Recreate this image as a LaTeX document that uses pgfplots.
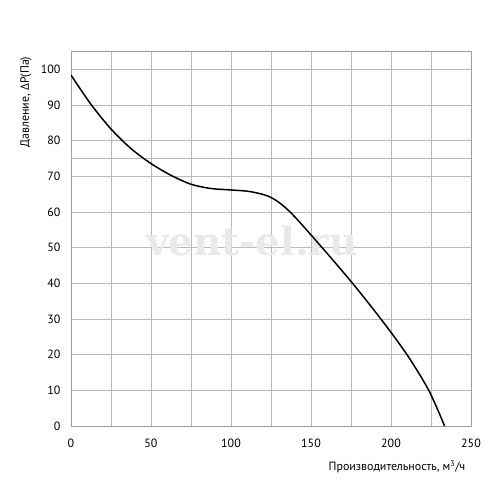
\documentclass[border=0pt]{standalone}
\usepackage{fontspec}
\setmainfont{PT Sans}
\newfontfamily\wmfont{DejaVu Serif}
\usepackage{pgfplots}
\pgfplotsset{compat=1.18}
\definecolor{gridc}{RGB}{185,185,185}
\definecolor{wmc}{RGB}{233,233,233}
\begin{document}
\begin{tikzpicture}
\useasboundingbox (-71bp,-74bp) rectangle (429bp,426bp);
\begin{axis}[
  scale only axis,
  width=400bp, height=374.4bp,
  at={(0,0)}, anchor=south west,
  xmin=0, xmax=250, ymin=0, ymax=105,
  xtick={0,50,100,150,200,250},
  minor xtick={25,75,125,175,225},
  ytick={0,10,...,100},
  extra y ticks={75},
  extra y tick labels={},
  extra y tick style={grid style={draw=gray!12, line width=0.8bp}},
  grid=both,
  major grid style={draw=gridc, line width=0.9bp},
  minor grid style={draw=gridc, line width=0.9bp},
  tick style={draw=none},
  axis line style={draw=gray!75, line width=0.9bp},
  /pgf/number format/assume math mode=true,
  ticklabel style={font=\fontsize{12}{14}\selectfont},
  yticklabel style={xshift=-7bp},
  xticklabel style={yshift=-9bp},
  xlabel={Производительность, м\textsuperscript{3}/ч},
  ylabel={Давление, ΔР(Па)},
  label style={font=\fontsize{12}{14}\selectfont},
  xlabel style={at={(axis description cs:0.815,-0.1095)}, anchor=center},
  ylabel style={at={(axis description cs:-0.1125,0.865)}, anchor=center},
]
\node[font=\wmfont\bfseries\fontsize{39}{42}\selectfont, text=wmc] at (axis cs:113,52) {vent-el.ru};
\addplot[black, line width=1.5bp, smooth] coordinates {
(0,98.4) (12.5,90.2) (25,83.3) (37.5,77.8) (50,73.6) (62.5,70.3) (75,67.8)
(87.5,66.6) (100,66.2) (112.5,65.7) (125,64.1) (137,60) (157,50) (176,40)
(193.7,30) (210,20) (223.6,10) (233.5,0)
};
\end{axis}
\end{tikzpicture}
\end{document}
